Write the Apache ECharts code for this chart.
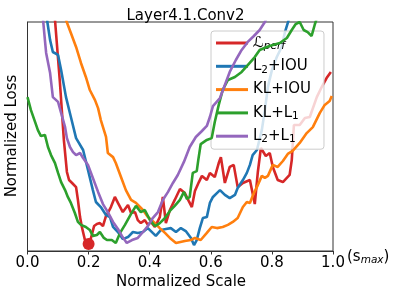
<!DOCTYPE html>
<html><head><meta charset="utf-8">
<script src="https://cdn.jsdelivr.net/npm/echarts@6/dist/echarts.min.js"></script>
<style>html,body{margin:0;padding:0;background:#fff}#c{width:398px;height:297px}</style>
</head><body><div id="c"></div>
<script>
var seriesNames = ['L_perf', 'L2+IOU', 'KL+IOU', 'KL+L1', 'L2+L1'];
var xTicks = [0.0, 0.2, 0.4, 0.6, 0.8, 1.0];

var redX = [0.090,0.106,0.119,0.129,0.136,0.146,0.159,0.165,0.172,0.178,0.188,0.198,0.208,0.218,0.227,0.237,0.247,0.257,0.263,0.273,0.286,0.296,0.312,0.329,0.339,0.352,0.361,0.371,0.384,0.394,0.404,0.417,0.433,0.443,0.453,0.466,0.482,0.499,0.515,0.528,0.538,0.548,0.561,0.571,0.587,0.597,0.613,0.626,0.633,0.646,0.662,0.675,0.688,0.705,0.728,0.744,0.754,0.764,0.780,0.793,0.803,0.819,0.836,0.858,0.865,0.872,0.891,0.908,0.924,0.947,0.963,0.979,0.993];
var redY = [1.009,0.738,0.485,0.345,0.310,0.297,0.279,0.223,0.148,0.105,0.048,0.031,0.057,0.109,0.118,0.122,0.109,0.153,0.166,0.192,0.236,0.210,0.170,0.201,0.166,0.170,0.135,0.122,0.135,0.114,0.127,0.105,0.148,0.236,0.122,0.179,0.223,0.271,0.253,0.218,0.192,0.262,0.301,0.328,0.310,0.341,0.323,0.384,0.410,0.297,0.367,0.376,0.279,0.297,0.310,0.205,0.345,0.450,0.415,0.428,0.367,0.310,0.301,0.332,0.397,0.550,0.550,0.581,0.585,0.672,0.716,0.755,0.782];

var blueX = [0.064,0.074,0.083,0.100,0.110,0.126,0.142,0.159,0.182,0.198,0.214,0.224,0.240,0.257,0.270,0.280,0.296,0.312,0.329,0.345,0.361,0.378,0.394,0.410,0.420,0.437,0.453,0.469,0.486,0.502,0.518,0.535,0.545,0.554,0.564,0.574,0.587,0.597,0.607,0.620,0.630,0.646,0.662,0.679,0.688,0.705,0.718,0.728,0.737,0.751,0.767,0.777,0.787,0.800,0.816,0.832,0.842,0.855];
var blueY = [1.009,0.921,0.869,0.856,0.790,0.672,0.585,0.493,0.441,0.354,0.266,0.214,0.192,0.157,0.148,0.105,0.083,0.052,0.061,0.083,0.079,0.083,0.100,0.079,0.066,0.092,0.096,0.100,0.083,0.100,0.087,0.057,0.026,0.048,0.100,0.144,0.148,0.210,0.236,0.253,0.266,0.245,0.231,0.245,0.275,0.310,0.341,0.376,0.419,0.441,0.528,0.616,0.716,0.790,0.847,0.891,0.952,1.009];

var orangeX = [0.126,0.142,0.159,0.175,0.191,0.204,0.221,0.231,0.240,0.257,0.263,0.280,0.289,0.306,0.322,0.339,0.355,0.378,0.394,0.417,0.433,0.450,0.466,0.486,0.515,0.535,0.548,0.567,0.587,0.603,0.620,0.639,0.656,0.672,0.688,0.705,0.718,0.728,0.741,0.754,0.767,0.777,0.787,0.803,0.819,0.836,0.852,0.868,0.891,0.914,0.934,0.957,0.973,0.989,0.996];
var orangeY = [1.009,0.952,0.891,0.821,0.760,0.703,0.659,0.624,0.572,0.498,0.428,0.410,0.384,0.323,0.266,0.223,0.210,0.179,0.148,0.122,0.100,0.079,0.057,0.035,0.044,0.048,0.057,0.048,0.079,0.105,0.100,0.105,0.114,0.127,0.144,0.192,0.214,0.210,0.253,0.288,0.328,0.319,0.328,0.376,0.367,0.393,0.424,0.437,0.472,0.515,0.541,0.603,0.638,0.655,0.677];

var greenX = [0.000,0.011,0.025,0.034,0.044,0.057,0.067,0.077,0.090,0.100,0.110,0.123,0.132,0.142,0.155,0.165,0.175,0.191,0.204,0.214,0.227,0.237,0.250,0.260,0.276,0.289,0.303,0.319,0.339,0.355,0.371,0.384,0.401,0.417,0.433,0.450,0.466,0.482,0.499,0.512,0.522,0.531,0.541,0.554,0.559,0.567,0.587,0.603,0.613,0.626,0.639,0.656,0.679,0.701,0.721,0.744,0.760,0.783,0.803,0.826,0.849,0.865,0.878,0.891,0.904,0.917,0.930,0.940,0.947];
var greenY = [0.672,0.616,0.563,0.528,0.502,0.507,0.454,0.419,0.384,0.341,0.301,0.266,0.236,0.210,0.166,0.127,0.114,0.105,0.092,0.066,0.070,0.083,0.057,0.048,0.048,0.035,0.079,0.114,0.162,0.197,0.170,0.179,0.135,0.109,0.122,0.144,0.175,0.197,0.223,0.258,0.227,0.236,0.341,0.349,0.397,0.467,0.485,0.493,0.563,0.638,0.703,0.747,0.760,0.782,0.812,0.847,0.878,0.891,0.900,0.908,0.930,0.965,0.991,1.000,0.965,0.956,0.939,0.987,1.017];

var purpleX = [0.051,0.057,0.061,0.074,0.083,0.100,0.110,0.123,0.129,0.139,0.149,0.159,0.172,0.182,0.198,0.214,0.231,0.247,0.263,0.280,0.296,0.309,0.325,0.342,0.361,0.378,0.394,0.410,0.427,0.443,0.460,0.476,0.492,0.512,0.531,0.551,0.571,0.587,0.597,0.607,0.630,0.646,0.662,0.682,0.701,0.721,0.741,0.760,0.777,0.783];
var purpleY = [1.009,0.921,0.865,0.777,0.672,0.651,0.603,0.541,0.493,0.454,0.432,0.419,0.428,0.406,0.376,0.319,0.258,0.205,0.170,0.127,0.096,0.066,0.035,0.048,0.057,0.083,0.109,0.144,0.170,0.223,0.258,0.297,0.332,0.389,0.454,0.498,0.524,0.546,0.585,0.633,0.668,0.725,0.782,0.834,0.878,0.913,0.939,0.965,1.000,1.017];

var bestX = [0.2];
var bestY = [0.031];

function zip(a, b) { return a.map(function (v, i) { return [v, b[i]]; }); }

var colors = ['#d62728', '#1f77b4', '#ff7f0e', '#2ca02c', '#9467bd'];
var xs = [redX, blueX, orangeX, greenX, purpleX];
var ys = [redY, blueY, orangeY, greenY, purpleY];

var FONT = 'DejaVu Sans';
var series = seriesNames.map(function (n, i) {
  return {
    name: n, type: 'line', data: zip(xs[i], ys[i]), symbol: 'none', clip: true,
    lineStyle: { color: colors[i], width: 2.6 }, itemStyle: { color: colors[i] },
    animation: false, z: 2 + i
  };
});
series.push({
  name: 'best', type: 'scatter', data: zip(bestX, bestY), symbol: 'circle', symbolSize: 12,
  itemStyle: { color: '#d62728', opacity: 1 }, z: 10, animation: false, clip: false
});

var legendRich = {
  n: { fontFamily: FONT, fontSize: 15, color: '#000', lineHeight: 18 },
  L: { fontFamily: FONT, fontSize: 15, color: '#000', lineHeight: 18, fontStyle: 'italic' },
  s: { fontFamily: FONT, fontSize: 10.5, color: '#000', lineHeight: 18, fontStyle: 'italic', verticalAlign: 'bottom', padding: [7, 0, 0, 0] },
  d: { fontFamily: FONT, fontSize: 10.5, color: '#000', lineHeight: 18, verticalAlign: 'bottom', padding: [7, 0, 0, 0] }
};
var legendLabels = {
  'L_perf': '{L|ℒ}{s|perf}',
  'L2+IOU': '{n|L}{d|2}{n|+IOU}',
  'KL+IOU': '{n|KL+IOU}',
  'KL+L1': '{n|KL+L}{d|1}',
  'L2+L1': '{n|L}{d|2}{n|+L}{d|1}'
};

var chart = echarts.init(document.getElementById('c'), null, { renderer: 'canvas' });
chart.setOption({
  animation: false,
  backgroundColor: '#fff',
  color: colors,
  title: {
    text: 'Layer4.1.Conv2', left: 180.5, top: 4, textAlign: 'center',
    textStyle: { fontFamily: FONT, fontSize: 15, fontWeight: 'normal', color: '#000' }
  },
  grid: { left: 27.5, right: 65, top: 22, bottom: 46, show: true, borderColor: '#333', borderWidth: 1, backgroundColor: 'transparent' },
  xAxis: {
    type: 'value', min: 0, max: 1, interval: 0.2,
    axisLine: { show: true, lineStyle: { color: '#333', width: 1 } },
    axisTick: { show: true, length: 3.5, lineStyle: { color: '#333' } },
    splitLine: { show: false },
    axisLabel: {
      margin: 5, fontFamily: FONT, fontSize: 15, color: '#000',
      formatter: function (v) { return v.toFixed(1); }
    }
  },
  yAxis: {
    type: 'value', min: 0, max: 1,
    axisLine: { show: true, lineStyle: { color: '#333', width: 1 } },
    axisTick: { show: false }, axisLabel: { show: false }, splitLine: { show: false }
  },
  legend: {
    data: seriesNames.map(function (n) { return { name: n, icon: 'rect' }; }),
    orient: 'vertical', left: 211, top: 31,
    itemWidth: 32, itemHeight: 3, itemGap: 5.3,
    padding: [3, 13, 4, 5],
    backgroundColor: 'rgba(255,255,255,0.8)', borderColor: '#cccccc', borderWidth: 1, borderRadius: 3,
    textStyle: { fontFamily: FONT, fontSize: 15, color: '#000', lineHeight: 18, rich: legendRich },
    formatter: function (name) { return legendLabels[name]; },
    selectedMode: false
  },
  graphic: [
    { type: 'text', rotation: Math.PI / 2, x: 12, y: 136,
      style: { text: 'Normalized Loss', font: '15px "DejaVu Sans"', fill: '#000', align: 'center', verticalAlign: 'middle' }, z: 20 },
    { type: 'text', x: 181, y: 282, style: { text: 'Normalized Scale', font: '15px "DejaVu Sans"', fill: '#000', align: 'center', verticalAlign: 'middle' }, z: 20 },
    { type: 'text', x: 347, y: 257,
      style: { text: '{a|(s}{b|max}{a|)}', verticalAlign: 'middle',
        rich: { a: { fontFamily: FONT, fontSize: 15, color: '#000', lineHeight: 18 },
                b: { fontFamily: FONT, fontSize: 10.5, fontStyle: 'italic', color: '#000', lineHeight: 18, verticalAlign: 'bottom', padding: [7, 0, 0, 0] } } }, z: 20 }
  ],
  series: series
});
</script>
</body></html>
